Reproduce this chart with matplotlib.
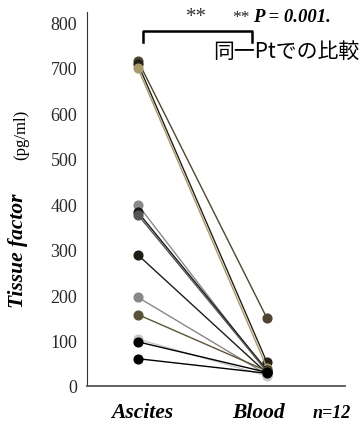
import numpy as np
import matplotlib.pyplot as plt

plt.rcParams.update(
    {
        "font.family": ["Liberation Serif", "DejaVu Serif"],
    }
)

groups = ["Ascites", "Blood"]
ascites = [715, 708, 698, 398, 382, 376, 288, 195, 157, 103, 97, 60]
blood = [149, 52, 40, 30, 35, 32, 28, 25, 33, 22, 30, 28]
colors = [
    "#4d4530", "#222018", "#a89a6a", "#8a8a8a", "#1a1a14", "#555555",
    "#1e1c14", "#888888", "#5a5238", "#c8c8c8", "#000000", "#000000",
]
yticks = [0, 100, 200, 300, 400, 500, 600, 700, 800]

fig = plt.figure(figsize=(3.63, 4.27), dpi=100)
ax = fig.add_axes([87 / 363, 1 - 387 / 427, 258 / 363, 374 / 427])

for a, b, c in zip(ascites, blood, colors):
    ax.plot([0, 1], [a, b], "-o", color=c, lw=1.0, ms=6.3, solid_capstyle="round")

ax.set_xlim(-0.395, 1.605)
ax.set_ylim(0, 822)
ax.set_yticks(yticks)
ax.set_yticklabels([str(t) for t in yticks], family="Liberation Serif",
                   fontsize=13, color="#2a2a2a")
ax.set_xticks([])
ax.tick_params(axis="y", length=0, pad=7)
ax.spines["top"].set_visible(False)
ax.spines["right"].set_visible(False)
ax.spines["left"].set_color("#333333")
ax.spines["bottom"].set_color("#555555")
ax.spines["bottom"].set_linewidth(1.3)

# x labels
fig.text(142 / 363, 1 - 413 / 427, groups[0], ha="center", va="center",
         fontsize=15.5, fontweight="bold", style="italic")
fig.text(259 / 363, 1 - 413 / 427, groups[1], ha="center", va="center",
         fontsize=15.5, fontweight="bold", style="italic")
fig.text(332 / 363, 1 - 414 / 427, "n=12", ha="center", va="center",
         fontsize=13, fontweight="bold", style="italic")

# y label
fig.text(18 / 363, 1 - 251 / 427, "Tissue factor", ha="center", va="center",
         rotation=90, fontsize=15.5, fontweight="bold", style="italic")
fig.text(21 / 363, 1 - 135 / 427, "(pg/ml)", ha="center", va="center",
         rotation=90, fontsize=12)

# significance bracket
bx0, bx1, by0, by1 = 143 / 363, 252 / 363, 1 - 32 / 427, 1 - 43 / 427
fig.add_artist(plt.Line2D([bx0, bx0, bx1, bx1], [by1, by0, by0, by1],
                          color="black", lw=1.8, transform=fig.transFigure))
fig.text(196 / 363, 1 - 18 / 427, "**", ha="center", va="center", fontsize=15,
         color="#333333")
fig.text(232 / 363, 1 - 18 / 427, "**", ha="left", va="center", fontsize=12.5,
         color="#222222")
fig.text(253 / 363, 1 - 17 / 427, "P = 0.001.", ha="left", va="center",
         fontsize=13.5, fontweight="bold", style="italic")
fig.text(213 / 363, 1 - 52 / 427, "同一Ptでの比較", ha="left", va="center",
         fontsize=15, family=["Noto Sans CJK JP", "DejaVu Sans"])

fig.savefig("out.png", dpi=100)
